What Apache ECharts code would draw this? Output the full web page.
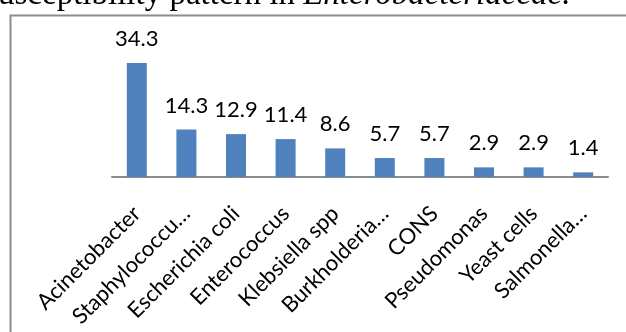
<!DOCTYPE html>
<html>
<head>
<meta charset="utf-8">
<script src="https://cdn.jsdelivr.net/npm/echarts@6/dist/echarts.min.js"></script>
<style>
    html, body { margin: 0; padding: 0; background: #fff; }
    #main { width: 626px; height: 332px; }
</style>
</head>
<body>
<div id="main"></div>
<script>
// organisms (as the axis shows them) and their share (%)
var organisms = ['Acinetobacter', 'Staphylococcu…', 'Escherichia coli', 'Enterococcus', 'Klebsiella spp',
    'Burkholderia…', 'CONS', 'Pseudomonas', 'Yeast cells', 'Salmonella…'];
var percent = [34.3, 14.3, 12.9, 11.4, 8.6, 5.7, 5.7, 2.9, 2.9, 1.4];

var chart = echarts.init(document.getElementById('main'));

var option = {
    animation: false,
    grid: {
        left: 112,
        right: 18,
        top: 44,
        bottom: 155
    },
    graphic: [
        // caption line above the figure, cut off at the top
        {
            type: 'text',
            left: -2,
            top: -21,
            style: {
                rich: {
                    n: { font: '33px "Liberation Serif"', fill: '#000' },
                    i: { font: 'italic 33px "Liberation Serif"', fill: '#000' }
                },
                text: '{n|usceptibility pattern in }{i|Enterobacteriaceae.}'
            }
        },
        // chart frame
        {
            type: 'polyline',
            shape: { points: [[10.5, 332], [10.5, 15.5], [626, 15.5]] },
            style: { stroke: '#8c8c8c', lineWidth: 2, fill: 'none' }
        }
    ],
    xAxis: {
        type: 'category',
        data: organisms,
        axisLine: { lineStyle: { color: '#8c8c8c', width: 2 } },
        axisTick: { show: false },
        axisLabel: {
            interval: 0,
            rotate: 45,
            margin: 33,
            fontFamily: 'Lato',
            fontSize: 22,
            color: '#000'
        }
    },
    yAxis: {
        type: 'value',
        min: 0,
        max: 40,
        show: false,
        splitLine: { show: false }
    },
    series: [
        {
            type: 'bar',
            data: percent,
            barWidth: 20,
            itemStyle: { color: '#4f81bd' },
            label: {
                show: true,
                position: 'top',
                distance: 13,
                fontFamily: 'Lato',
                fontSize: 22,
                color: '#000'
            }
        }
    ]
};

chart.setOption(option);
</script>
</body>
</html>
